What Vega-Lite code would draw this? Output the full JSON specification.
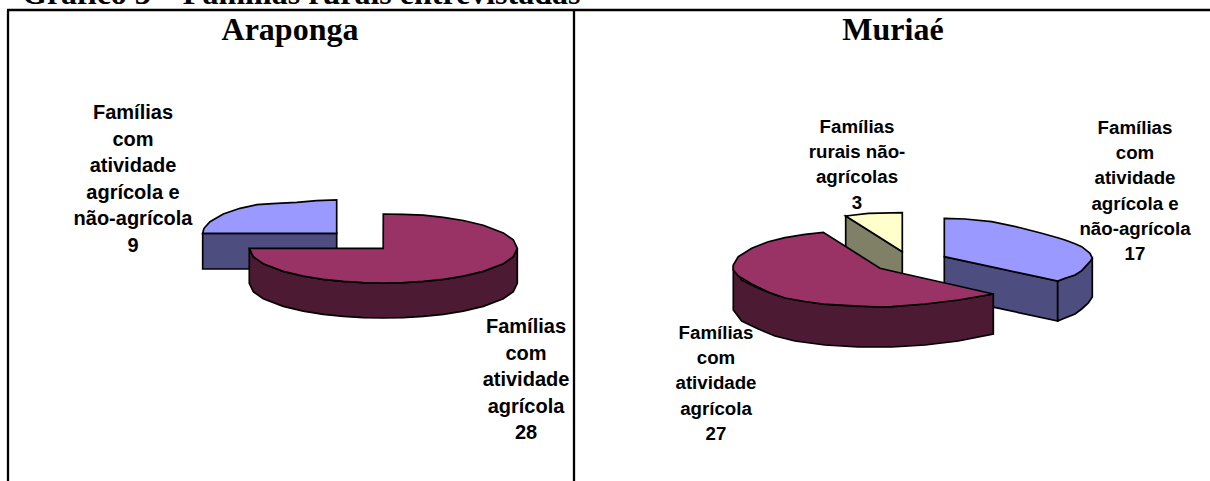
{
"$schema":"https://vega.github.io/schema/vega-lite/v6.json",
"width":1210,"height":481,"padding":0,
"autosize":{"type":"none"},
"background":"white",
"view":{"stroke":null},
"datasets":{
"borders":[
{"x":7,"x2":1210,"y":10,"y2":10},
{"x":8,"x2":8,"y":10,"y2":481},
{"x":574,"x2":574,"y":10,"y2":481}
],
"shapes":[
{"part":"a","x":202.7,"y":233.3,"y2":269},{"part":"a","x":336.7,"y":233.3,"y2":269},
{"part":"b","x":202.7,"y":233.3,"y2":233.3},{"part":"b","x":204,"y":228.3,"y2":233.3},{"part":"b","x":210,"y":221.7,"y2":233.3},{"part":"b","x":223.3,"y":214,"y2":233.3},{"part":"b","x":240,"y":208.3,"y2":233.3},{"part":"b","x":256.7,"y":204.7,"y2":233.3},{"part":"b","x":276.7,"y":203.3,"y2":233.3},{"part":"b","x":296.7,"y":202.3,"y2":233.3},{"part":"b","x":316.7,"y":200.7,"y2":233.3},{"part":"b","x":336.7,"y":200,"y2":233.3},
{"part":"c","x":249.3,"y":248.3,"y2":283.3},{"part":"c","x":253.3,"y":256.7,"y2":291.7},{"part":"c","x":263.3,"y":263.7,"y2":298.7},{"part":"c","x":283.3,"y":271.4,"y2":306.4},{"part":"c","x":303.3,"y":276.1,"y2":311.1},{"part":"c","x":323.3,"y":279.3,"y2":314.3},{"part":"c","x":343.3,"y":281.4,"y2":316.4},{"part":"c","x":363.3,"y":282.6,"y2":317.6},{"part":"c","x":383.3,"y":283,"y2":318},{"part":"c","x":403.3,"y":282.6,"y2":317.6},{"part":"c","x":423.3,"y":281.4,"y2":316.4},{"part":"c","x":443.3,"y":279.3,"y2":314.3},{"part":"c","x":463.3,"y":276.1,"y2":311.1},{"part":"c","x":483.3,"y":271.4,"y2":306.4},{"part":"c","x":503.3,"y":263.7,"y2":298.7},{"part":"c","x":513.3,"y":256.7,"y2":291.7},{"part":"c","x":517.3,"y":248.3,"y2":283.3},
{"part":"d","x":249.3,"y":248.3,"y2":248.3},{"part":"d","x":253.3,"y":248.3,"y2":256.7},{"part":"d","x":263.3,"y":248.3,"y2":263.7},{"part":"d","x":283.3,"y":248.3,"y2":271.4},{"part":"d","x":303.3,"y":248.3,"y2":276.1},{"part":"d","x":323.3,"y":248.3,"y2":279.3},{"part":"d","x":343.3,"y":248.3,"y2":281.4},{"part":"d","x":363.3,"y":248.3,"y2":282.6},{"part":"d","x":383.2,"y":248.3,"y2":283},{"part":"d","x":383.3,"y":214,"y2":283},{"part":"d","x":403.3,"y":214.4,"y2":282.6},{"part":"d","x":423.3,"y":215.2,"y2":281.4},{"part":"d","x":443.3,"y":217.3,"y2":279.3},{"part":"d","x":463.3,"y":220.5,"y2":276.1},{"part":"d","x":483.3,"y":225.2,"y2":271.4},{"part":"d","x":503.3,"y":232.9,"y2":263.7},{"part":"d","x":513.3,"y":239.9,"y2":256.7},{"part":"d","x":517.3,"y":248.3,"y2":248.3},
{"part":"e","x":845.7,"y":216,"y2":256},{"part":"e","x":902.3,"y":251.7,"y2":291.7},
{"part":"f","x":845.7,"y":216,"y2":216},{"part":"f","x":868.3,"y":213.3,"y2":230.2},{"part":"f","x":902.3,"y":212.7,"y2":251.7},
{"part":"g","x":944.3,"y":256.7,"y2":296.7},{"part":"g","x":1057.7,"y":281,"y2":321},
{"part":"h","x":1057.7,"y":281,"y2":321},{"part":"h","x":1065,"y":278.3,"y2":318},{"part":"h","x":1075,"y":275,"y2":314},{"part":"h","x":1081.7,"y":270.7,"y2":309},{"part":"h","x":1088.3,"y":263,"y2":303},{"part":"h","x":1092.3,"y":258.3,"y2":297},
{"part":"i","x":944.3,"y":218.3,"y2":256.7},{"part":"i","x":965,"y":219,"y2":261.1},{"part":"i","x":991.7,"y":221.7,"y2":266.9},{"part":"i","x":1018.3,"y":227.3,"y2":272.6},{"part":"i","x":1041.7,"y":233.3,"y2":277.6},{"part":"i","x":1057.7,"y":237.7,"y2":281},{"part":"i","x":1065,"y":240,"y2":278.3},{"part":"i","x":1075,"y":243.7,"y2":275},{"part":"i","x":1081.7,"y":246.7,"y2":270.7},{"part":"i","x":1090,"y":253.3,"y2":261.7},{"part":"i","x":1092.3,"y":258.3,"y2":258.3},
{"part":"j","x":733.3,"y":268,"y2":310},{"part":"j","x":741.7,"y":280,"y2":321},{"part":"j","x":758.3,"y":288.3,"y2":329},{"part":"j","x":775,"y":295,"y2":336},{"part":"j","x":795,"y":300,"y2":341},{"part":"j","x":825,"y":304.5,"y2":345},{"part":"j","x":858.3,"y":306.5,"y2":347},{"part":"j","x":891.7,"y":306.7,"y2":347},{"part":"j","x":925,"y":304,"y2":345},{"part":"j","x":958.3,"y":300,"y2":341},{"part":"j","x":993.3,"y":294,"y2":334},
{"part":"k","x":733.3,"y":265,"y2":270},{"part":"k","x":738.3,"y":256.7,"y2":276},{"part":"k","x":751.7,"y":248.3,"y2":284},{"part":"k","x":768.3,"y":241.7,"y2":292},{"part":"k","x":785,"y":237.7,"y2":298},{"part":"k","x":805,"y":234.3,"y2":301.5},{"part":"k","x":823.3,"y":232.3,"y2":304},{"part":"k","x":858.3,"y":254.5,"y2":306},{"part":"k","x":880,"y":268.3,"y2":307},{"part":"k","x":891.7,"y":271,"y2":306.7},{"part":"k","x":925,"y":278.5,"y2":304},{"part":"k","x":958.3,"y":286,"y2":300},{"part":"k","x":993.3,"y":294,"y2":294}
],
"heading":[{"t":"Gráfico 3 – Famílias rurais entrevistadas","x":22,"y":4}],
"titles":[
{"t":"Araponga","x":290,"y":40},
{"t":"Muriaé","x":893,"y":40}
],
"labelsA":[
{"t":"Famílias\ncom\natividade\nagrícola e\nnão-agrícola\n9","x":133,"y":119},
{"t":"Famílias\ncom\natividade\nagrícola\n28","x":526,"y":333}
],
"labelsM":[
{"t":"Famílias\nrurais não-\nagrícolas\n3","x":857,"y":133},
{"t":"Famílias\ncom\natividade\nagrícola e\nnão-agrícola\n17","x":1135,"y":134},
{"t":"Famílias\ncom\natividade\nagrícola\n27","x":716,"y":339}
]
},
"layer":[
{"data":{"name":"borders"},"mark":{"type":"rule","color":"#000","strokeWidth":2.3},
"encoding":{"x":{"field":"x","type":"quantitative","scale":{"domain":[0,1210]},"axis":null},"x2":{"field":"x2"},"y":{"field":"y","type":"quantitative","scale":{"domain":[481,0]},"axis":null},"y2":{"field":"y2"}}},
{"data":{"name":"shapes"},"mark":{"type":"area","orient":"vertical","stroke":"#000","strokeWidth":1.7,"opacity":1},
"encoding":{"x":{"field":"x","type":"quantitative","scale":{"domain":[0,1210]},"axis":null},"y":{"field":"y","type":"quantitative","stack":null,"scale":{"domain":[481,0]},"axis":null},"y2":{"field":"y2"},
"color":{"field":"part","type":"nominal","legend":null,"scale":{"domain":["a","b","c","d","e","f","g","h","i","j","k"],"range":["#4D4D80","#9999FF","#4D1A33","#993366","#808066","#FFFFCC","#4D4D80","#4D4D80","#9999FF","#4D1A33","#993366"]}}}},
{"data":{"name":"heading"},"mark":{"type":"text","font":"Liberation Serif","fontWeight":"bold","fontSize":32,"baseline":"alphabetic","align":"left"},
"encoding":{"x":{"field":"x","type":"quantitative","scale":{"domain":[0,1210]},"axis":null},"y":{"field":"y","type":"quantitative","scale":{"domain":[481,0]},"axis":null},"text":{"field":"t"}}},
{"data":{"name":"titles"},"mark":{"type":"text","font":"Liberation Serif","fontWeight":"bold","fontSize":32,"baseline":"alphabetic","align":"center"},
"encoding":{"x":{"field":"x","type":"quantitative","scale":{"domain":[0,1210]},"axis":null},"y":{"field":"y","type":"quantitative","scale":{"domain":[481,0]},"axis":null},"text":{"field":"t"}}},
{"data":{"name":"labelsA"},"mark":{"type":"text","font":"Liberation Sans","fontWeight":"bold","fontSize":20,"baseline":"alphabetic","align":"center","lineBreak":"\n","lineHeight":26.6},
"encoding":{"x":{"field":"x","type":"quantitative","scale":{"domain":[0,1210]},"axis":null},"y":{"field":"y","type":"quantitative","scale":{"domain":[481,0]},"axis":null},"text":{"field":"t"}}},
{"data":{"name":"labelsM"},"mark":{"type":"text","font":"Liberation Sans","fontWeight":"bold","fontSize":18.7,"baseline":"alphabetic","align":"center","lineBreak":"\n","lineHeight":25.2},
"encoding":{"x":{"field":"x","type":"quantitative","scale":{"domain":[0,1210]},"axis":null},"y":{"field":"y","type":"quantitative","scale":{"domain":[481,0]},"axis":null},"text":{"field":"t"}}}
]
}
